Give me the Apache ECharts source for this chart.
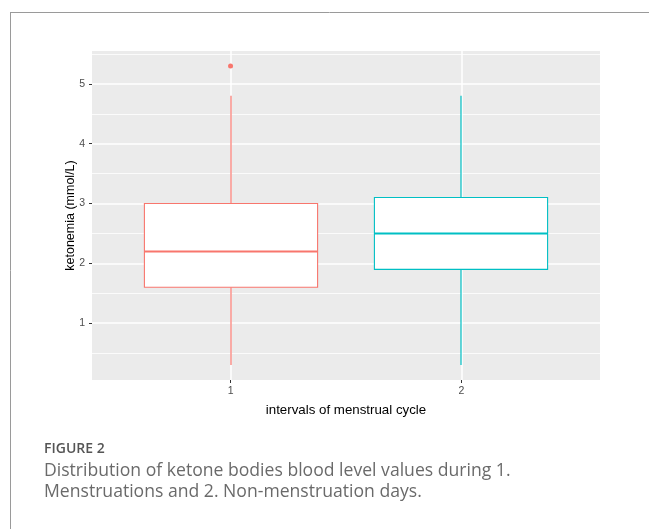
<!DOCTYPE html>
<html>
<head>
<meta charset="utf-8">
<script src="https://cdn.jsdelivr.net/npm/echarts@6/dist/echarts.min.js"></script>
<style>
html,body{margin:0;padding:0;background:#fff;}
#chart{width:649px;height:529px;}
</style>
</head>
<body>
<div id="chart"></div>
<script>
// ---- data ----
var categories = ['1', '2'];
var lowerWhisker = [0.3, 0.3];
var q1 = [1.6, 1.9];
var median = [2.2, 2.5];
var q3 = [3.0, 3.1];
var upperWhisker = [4.8, 4.8];
var outliers = [[1, 5.3]];
var boxColors = ['#F8766D', '#00BFC4'];
var yTickLabels = [1, 2, 3, 4, 5];
var yMinorLines = [0.5, 1.5, 2.5, 3.5, 4.5, 5.5];
var xTicks = [1, 2];

var boxData = categories.map(function (c, i) {
  return [i + 1, lowerWhisker[i], q1[i], median[i], q3[i], upperWhisker[i]];
});

var chart = echarts.init(document.getElementById('chart'), null, {renderer: 'canvas'});
var axisFont = 'Liberation Sans, Arial, sans-serif';

var option = {
  animation: false,
  backgroundColor: '#ffffff',
  grid: {
    left: 92, top: 51, width: 508, height: 329,
    show: true, backgroundColor: '#EBEBEB', borderWidth: 0
  },
  xAxis: [{
    type: 'value', min: 0.4, max: 2.6,
    name: 'intervals of menstrual cycle',
    nameLocation: 'middle', nameGap: 24, nameMoveOverlap: false,
    nameTextStyle: {fontFamily: axisFont, fontSize: 13.3, color: '#000'},
    axisLine: {show: false},
    axisTick: {show: true, length: 3, customValues: xTicks, lineStyle: {color: '#333', width: 1}},
    axisLabel: {customValues: xTicks, fontFamily: axisFont, fontSize: 10.5, color: '#4D4D4D', margin: 6,
      formatter: function (v) { return categories[Math.round(v) - 1] || ''; }},
    splitLine: {show: true, lineStyle: {color: '#ffffff', width: 1.5}}
  }],
  yAxis: [{
    type: 'value', min: 0.05, max: 5.55,
    name: 'ketonemia (mmol/L)',
    nameLocation: 'middle', nameGap: 15, nameMoveOverlap: false,
    nameTextStyle: {fontFamily: axisFont, fontSize: 12.5, color: '#000'},
    axisLine: {show: false},
    axisTick: {show: true, length: 3, customValues: yTickLabels, lineStyle: {color: '#333', width: 1}},
    axisLabel: {customValues: yTickLabels, fontFamily: axisFont, fontSize: 10.5, color: '#4D4D4D', margin: 7},
    splitLine: {show: true, lineStyle: {color: '#ffffff', width: 1.5}}
  }, {
    type: 'value', min: 0.05, max: 5.55, position: 'left',
    axisLine: {show: false},
    axisTick: {show: false, customValues: yMinorLines},
    axisLabel: {show: false, customValues: yMinorLines},
    splitLine: {show: true, lineStyle: {color: '#ffffff', width: 0.8}}
  }],
  series: [{
    type: 'custom',
    xAxisIndex: 0, yAxisIndex: 0,
    data: boxData,
    renderItem: function (params, api) {
      var x = api.value(0);
      var color = boxColors[params.dataIndex];
      var half = api.size([0.75, 0])[0] / 2;
      var pLow = api.coord([x, api.value(1)]);
      var pQ1 = api.coord([x, api.value(2)]);
      var pMed = api.coord([x, api.value(3)]);
      var pQ3 = api.coord([x, api.value(4)]);
      var pHigh = api.coord([x, api.value(5)]);
      var cx = Math.round(pLow[0]);
      var fillStyle = {fill: color, stroke: null, opacity: 1};
      return {
        type: 'group',
        children: [
          {type: 'rect', shape: {x: cx - 0.6, y: pQ1[1], width: 1.2, height: pLow[1] - pQ1[1]}, style: fillStyle},
          {type: 'rect', shape: {x: cx - 0.6, y: pHigh[1], width: 1.2, height: pQ3[1] - pHigh[1]}, style: fillStyle},
          {type: 'rect', shape: {x: cx - half, y: pQ3[1], width: half * 2, height: pQ1[1] - pQ3[1]},
            style: {fill: '#ffffff', stroke: color, lineWidth: 1.1, opacity: 1}},
          {type: 'rect', shape: {x: cx - half, y: pMed[1] - 1, width: half * 2, height: 2}, style: fillStyle}
        ]
      };
    }
  }, {
    type: 'scatter',
    xAxisIndex: 0, yAxisIndex: 0,
    data: outliers,
    symbolSize: 5,
    itemStyle: {color: boxColors[0], opacity: 1}
  }],
  graphic: [
    {type: 'line', shape: {x1: 10, y1: 12.5, x2: 649, y2: 12.5}, style: {stroke: '#9a9a9a', lineWidth: 1}},
    {type: 'line', shape: {x1: 10.5, y1: 12, x2: 10.5, y2: 529}, style: {stroke: '#9a9a9a', lineWidth: 1}},
    {type: 'text', left: 44, top: 442,
      style: {text: 'FIGURE 2', fontFamily: 'Open Sans, sans-serif', fontSize: 14, fontWeight: 600, fill: '#555555'}},
    {type: 'text', left: 44, top: 461,
      style: {text: 'Distribution of ketone bodies blood level values during 1.\nMenstruations and 2. Non-menstruation days.',
        fontFamily: 'Open Sans, sans-serif', fontSize: 17.6, lineHeight: 20.5, fill: '#6a6a6a'}}
  ]
};
chart.setOption(option);
</script>
</body>
</html>
